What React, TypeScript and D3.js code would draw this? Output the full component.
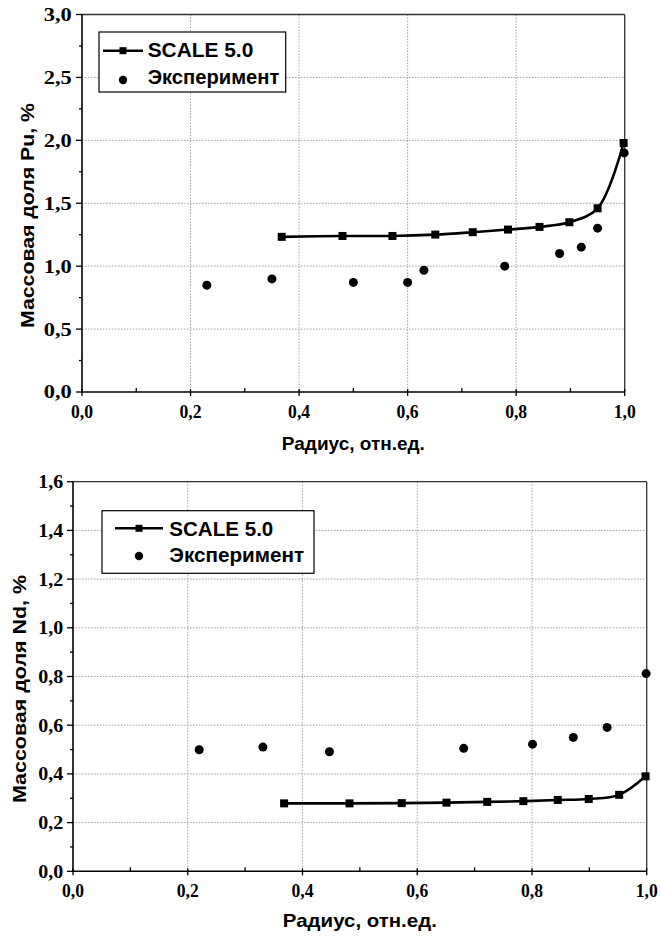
import React from "react";
import * as d3 from "d3";

// ---------- data ----------
const puScaleX = [0.368, 0.48, 0.572, 0.651, 0.72, 0.785, 0.843, 0.898, 0.95, 0.998];
const puScaleY = [1.233, 1.24, 1.24, 1.251, 1.27, 1.291, 1.312, 1.349, 1.46, 1.979];
const puExpX = [0.23, 0.35, 0.5, 0.6, 0.63, 0.779, 0.88, 0.92, 0.95, 0.999];
const puExpY = [0.849, 0.899, 0.871, 0.871, 0.968, 1.0, 1.101, 1.151, 1.302, 1.9];

const ndScaleX = [0.368, 0.482, 0.573, 0.651, 0.722, 0.785, 0.845, 0.899, 0.952, 0.998];
const ndScaleY = [0.279, 0.279, 0.28, 0.282, 0.285, 0.288, 0.293, 0.297, 0.314, 0.39];
const ndExpX = [0.22, 0.331, 0.447, 0.681, 0.801, 0.872, 0.931, 0.999];
const ndExpY = [0.499, 0.51, 0.491, 0.505, 0.522, 0.55, 0.591, 0.812];

const xTicks = [0, 0.2, 0.4, 0.6, 0.8, 1.0];
const xMinor = [0.1, 0.3, 0.5, 0.7, 0.9];
const puYTicks = [0, 0.5, 1.0, 1.5, 2.0, 2.5, 3.0];
const puYMinor = [0.25, 0.75, 1.25, 1.75, 2.25, 2.75];
const ndYTicks = [0, 0.2, 0.4, 0.6, 0.8, 1.0, 1.2, 1.4, 1.6];
const ndYMinor = [0.1, 0.3, 0.5, 0.7, 0.9, 1.1, 1.3, 1.5];

const legendLabels = ["SCALE 5.0", "Эксперимент"];
const xTitle = "Радиус, отн.ед.";
const puYTitle = "Массовая доля Pu, %";
const ndYTitle = "Массовая доля Nd, %";

const fmt = (v: number) => v.toFixed(1).replace(".", ",");

type ChartProps = {
  left: number; right: number; top: number; bottom: number;
  yMax: number; yTicks: number[]; yMinor: number[];
  sx: number[]; sy: number[]; ex: number[]; ey: number[];
  yTitle: string; yTitleCenter: number; yTitleX: number; yTitleLen: number;
  xTitleY: number; xTitleLen: number;
  yLabGap: number; yLabLen: number;
  legend: { x0: number; x1: number; y0: number; y1: number; lineY: number; lx0: number; lx1: number; textX: number; t1: number; dotY: number; t2: number; len1: number; len2: number };
};

function Chart(p: ChartProps) {
  const x = d3.scaleLinear().domain([0, 1]).range([p.left, p.right]);
  const y = d3.scaleLinear().domain([0, p.yMax]).range([p.bottom, p.top]);
  const line = d3.line<number>()
    .x((_, i) => x(p.sx[i]))
    .y((d) => y(d))
    .curve(d3.curveCatmullRom.alpha(0.5));
  const tickFont = { fontFamily: "'Liberation Serif', 'Times New Roman', serif", fontWeight: 700, fontSize: 18.5 };
  const labFont = { fontFamily: "'Liberation Sans', Arial, sans-serif", fontWeight: 700 };
  const sq = 8;
  const L = p.legend;
  return (
    <g>
      {/* grid */}
      {xTicks.filter((t) => t > 0 && t < 1).map((t) => (
        <line key={"gx" + t} x1={x(t)} x2={x(t)} y1={p.top} y2={p.bottom} stroke="#8a8a8a" strokeWidth={0.8} strokeDasharray="1.5,1.5" />
      ))}
      {p.yTicks.filter((t) => t > 0 && t < p.yMax).map((t) => (
        <line key={"gy" + t} x1={p.left} x2={p.right} y1={y(t)} y2={y(t)} stroke="#8a8a8a" strokeWidth={0.8} strokeDasharray="1.5,1.5" />
      ))}
      {/* frame */}
      <line x1={p.left} x2={p.right} y1={p.top} y2={p.top} stroke="#333" strokeWidth={1.3} />
      <line x1={p.right} x2={p.right} y1={p.top} y2={p.bottom} stroke="#333" strokeWidth={1.3} />
      <line x1={p.left} x2={p.right} y1={p.bottom} y2={p.bottom} stroke="#000" strokeWidth={1.6} />
      <line x1={p.left} x2={p.left} y1={p.top} y2={p.bottom} stroke="#000" strokeWidth={1.6} />
      {/* x ticks */}
      {xTicks.map((t) => (
        <line key={"xt" + t} x1={x(t)} x2={x(t)} y1={p.bottom - 3} y2={p.bottom + 4} stroke="#000" strokeWidth={1.3} />
      ))}
      {xMinor.map((t) => (
        <line key={"xm" + t} x1={x(t)} x2={x(t)} y1={p.bottom - 4} y2={p.bottom} stroke="#000" strokeWidth={1.3} />
      ))}
      {xTicks.map((t) => (
        <text key={"xl" + t} x={x(t)} y={p.bottom + 26} textAnchor="middle" textLength={22} lengthAdjust="spacingAndGlyphs" {...tickFont}>{fmt(t)}</text>
      ))}
      {/* y ticks */}
      {p.yTicks.map((t) => (
        <line key={"yt" + t} x1={p.left - 6} x2={p.left} y1={y(t)} y2={y(t)} stroke="#000" strokeWidth={1.3} />
      ))}
      {p.yMinor.map((t) => (
        <line key={"ym" + t} x1={p.left - 3} x2={p.left} y1={y(t)} y2={y(t)} stroke="#000" strokeWidth={1.3} />
      ))}
      {p.yTicks.map((t) => (
        <text key={"yl" + t} x={p.left - p.yLabGap - p.yLabLen} y={y(t)} dy="0.35em" textAnchor="start" textLength={p.yLabLen} lengthAdjust="spacingAndGlyphs" {...tickFont}>{fmt(t)}</text>
      ))}
      {/* titles */}
      <text x={(p.left + p.right) / 2 - p.xTitleLen / 2} y={p.xTitleY} fontSize={18.5} textLength={p.xTitleLen} lengthAdjust="spacingAndGlyphs" {...labFont}>{xTitle}</text>
      <text transform={`translate(${p.yTitleX},${p.yTitleCenter + p.yTitleLen / 2}) rotate(-90)`} fontSize={19} textLength={p.yTitleLen} lengthAdjust="spacingAndGlyphs" {...labFont}>{p.yTitle}</text>
      {/* series */}
      <path d={line(p.sy) || ""} fill="none" stroke="#000" strokeWidth={2.6} />
      {p.sy.map((v, i) => (
        <rect key={"s" + i} x={x(p.sx[i]) - sq / 2} y={y(v) - sq / 2} width={sq} height={sq} fill="#000" />
      ))}
      {p.ey.map((v, i) => (
        <circle key={"e" + i} cx={x(p.ex[i])} cy={y(v)} r={4.5} fill="#000" />
      ))}
      {/* legend */}
      <rect x={L.x0} y={L.y0} width={L.x1 - L.x0} height={L.y1 - L.y0} fill="#fff" stroke="#000" strokeWidth={1.2} />
      <line x1={L.lx0} x2={L.lx1} y1={L.lineY} y2={L.lineY} stroke="#000" strokeWidth={2.6} />
      <rect x={(L.lx0 + L.lx1) / 2 - 3.5} y={L.lineY - 3.5} width={7} height={7} fill="#000" />
      <circle cx={(L.lx0 + L.lx1) / 2} cy={L.dotY} r={4.2} fill="#000" />
      <text x={L.textX} y={L.t1} fontSize={20} textLength={L.len1} lengthAdjust="spacingAndGlyphs" {...labFont}>{legendLabels[0]}</text>
      <text x={L.textX} y={L.t2} fontSize={20} textLength={L.len2} lengthAdjust="spacingAndGlyphs" {...labFont}>{legendLabels[1]}</text>
    </g>
  );
}

export default function App() {
  return (
    <svg width={660} height={939} style={{ position: "absolute", left: 0, top: 0, background: "#fff" }}>
      <rect width={660} height={939} fill="#fff" />
      <Chart
        left={82} right={624.7} top={14.5} bottom={392}
        yMax={3} yTicks={puYTicks} yMinor={puYMinor}
        sx={puScaleX} sy={puScaleY} ex={puExpX} ey={puExpY}
        yTitle={puYTitle} yTitleCenter={215.5} yTitleX={34} yTitleLen={225}
        xTitleY={450} xTitleLen={143}
        yLabGap={10.3} yLabLen={28}
        legend={{ x0: 99, x1: 285.7, y0: 32, y1: 92, lineY: 50.7, lx0: 103, lx1: 143, textX: 147.7, t1: 57, dotY: 80, t2: 84, len1: 105.6, len2: 131.6 }}
      />
      <Chart
        left={73} right={646.7} top={481.7} bottom={871.3}
        yMax={1.6} yTicks={ndYTicks} yMinor={ndYMinor}
        sx={ndScaleX} sy={ndScaleY} ex={ndExpX} ey={ndExpY}
        yTitle={ndYTitle} yTitleCenter={689} yTitleX={26} yTitleLen={228}
        xTitleY={927} xTitleLen={154}
        yLabGap={9.7} yLabLen={25}
        legend={{ x0: 102, x1: 314, y0: 510.7, y1: 573.3, lineY: 528.3, lx0: 115, lx1: 163, textX: 169.3, t1: 535.5, dotY: 556, t2: 562, len1: 104, len2: 134.7 }}
      />
    </svg>
  );
}
